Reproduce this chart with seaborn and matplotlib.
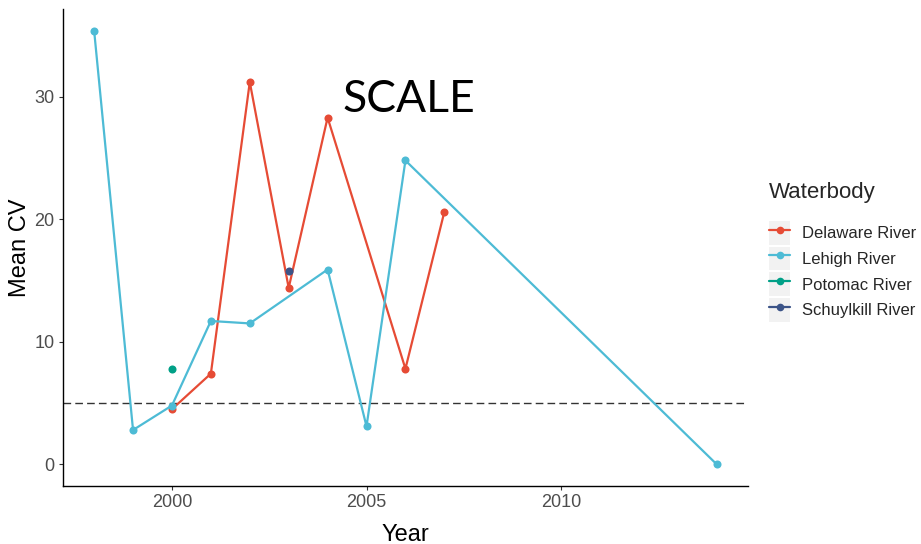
import matplotlib
matplotlib.use("Agg")
import matplotlib.pyplot as plt
from matplotlib.lines import Line2D
from matplotlib.patches import Patch
from matplotlib.legend_handler import HandlerTuple
import pandas as pd
import seaborn as sns

# Mean coefficient of variation per waterbody and year
delaware_years = [2000, 2001, 2002, 2003, 2004, 2006, 2007]
delaware_cv = [4.5, 7.4, 31.2, 14.4, 28.3, 7.8, 20.6]

lehigh_years = [1998, 1999, 2000, 2001, 2002, 2004, 2005, 2006, 2014]
lehigh_cv = [35.4, 2.8, 4.8, 11.7, 11.5, 15.9, 3.1, 24.8, 0.0]

potomac_years = [2000]
potomac_cv = [7.8]

schuylkill_years = [2003]
schuylkill_cv = [15.8]

waterbodies = ["Delaware River", "Lehigh River", "Potomac River", "Schuylkill River"]
colors = ["#E64B35", "#4DBBD5", "#00A087", "#3C5488"]
x_ticks = [2000, 2005, 2010]
y_ticks = [0, 10, 20, 30]
threshold = 5

frames = []
for name, yrs, vals in zip(
    waterbodies,
    [delaware_years, lehigh_years, potomac_years, schuylkill_years],
    [delaware_cv, lehigh_cv, potomac_cv, schuylkill_cv],
):
    frames.append(pd.DataFrame({"Year": yrs, "CV": vals, "Waterbody": name}))
df = pd.concat(frames, ignore_index=True)

sns.set_theme(style="white")
plt.rcParams["font.family"] = ["Liberation Sans", "DejaVu Sans"]

fig = plt.figure(figsize=(9.21, 5.44), dpi=100)
ax = fig.add_axes([0.0684, 0.1066, 0.7436, 0.877])

palette = dict(zip(waterbodies, colors))
sns.lineplot(
    data=df, x="Year", y="CV", hue="Waterbody", hue_order=waterbodies,
    palette=palette, marker="o", markersize=5.8, markeredgewidth=0,
    linewidth=1.6, legend=False, ax=ax, estimator=None,
)

ax.axhline(threshold, color="#333333", lw=1.0, ls=(0, (5.5, 3)), zorder=1)

x_min, x_max = 1998, 2014
y_min, y_max = 0, max(lehigh_cv)
xpad = (x_max - x_min) * 0.05
ypad = (y_max - y_min) * 0.05
ax.set_xlim(x_min - xpad, x_max + xpad)
ax.set_ylim(y_min - ypad, y_max + ypad)
ax.set_xticks(x_ticks)
ax.set_yticks(y_ticks)

for side in ["top", "right"]:
    ax.spines[side].set_visible(False)
for side in ["left", "bottom"]:
    ax.spines[side].set_color("black")
    ax.spines[side].set_linewidth(1.0)
ax.tick_params(axis="both", bottom=True, left=True, length=3, width=0.8,
               color="#333333", labelcolor="#4D4D4D", labelsize=13, pad=3)

ax.set_xlabel("Year", fontsize=17, color="black", labelpad=9)
ax.set_ylabel("Mean CV", fontsize=17, color="black")
ax.yaxis.set_label_coords(-0.047, 0.5)

fig.text(0.444, 0.818, "SCALE", fontsize=32, family=["Lato", "DejaVu Sans"],
         ha="center", va="center", color="black")

handles = [
    (Patch(facecolor="#F2F2F2", edgecolor="none"),
     Line2D([], [], color=c, lw=1.6, marker="o", markersize=5.5, markeredgewidth=0))
    for c in colors
]
leg = fig.legend(
    handles, waterbodies, title="Waterbody",
    handler_map={tuple: HandlerTuple(ndivide=1, pad=0)},
    loc="upper left", bbox_to_anchor=(0.835, 0.665),
    frameon=False, fontsize=12, title_fontsize=16,
    handlelength=1.26, handleheight=1.8, labelspacing=0.12,
    handletextpad=0.72, borderpad=0, borderaxespad=0,
)
leg._legend_box.align = "left"
leg._legend_box.sep = 13

fig.savefig("out.png", dpi=100)
